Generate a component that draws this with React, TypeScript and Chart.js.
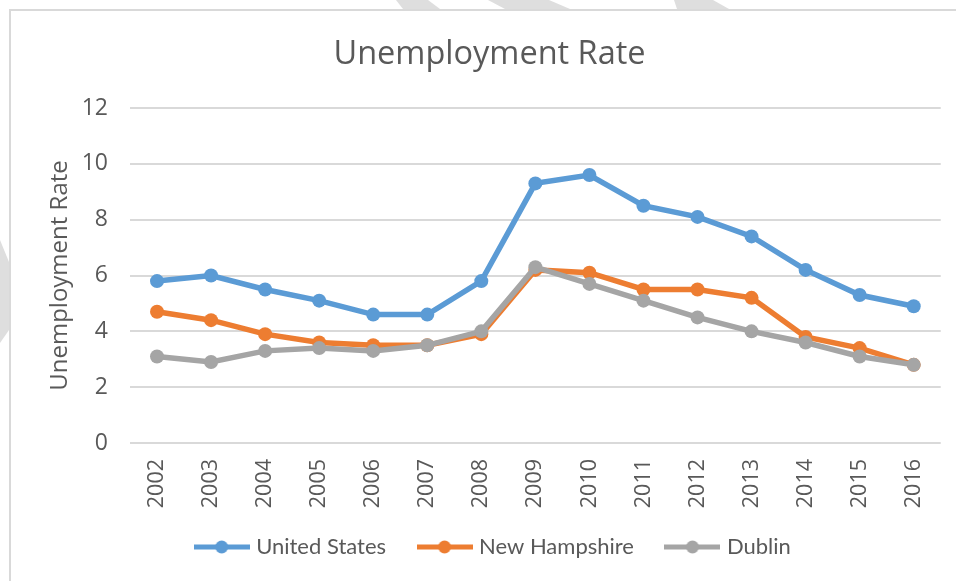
import React, { useEffect, useRef } from "react";
import { Chart, registerables } from "chart.js";

Chart.register(...registerables);

const years = ["2002","2003","2004","2005","2006","2007","2008","2009","2010","2011","2012","2013","2014","2015","2016"];
const unitedStates = [5.8, 6.0, 5.5, 5.1, 4.6, 4.6, 5.8, 9.3, 9.6, 8.5, 8.1, 7.4, 6.2, 5.3, 4.9];
const newHampshire = [4.7, 4.4, 3.9, 3.6, 3.5, 3.5, 3.9, 6.2, 6.1, 5.5, 5.5, 5.2, 3.8, 3.4, 2.8];
const dublin = [3.1, 2.9, 3.3, 3.4, 3.3, 3.5, 4.0, 6.3, 5.7, 5.1, 4.5, 4.0, 3.6, 3.1, 2.8];
const seriesNames = ["United States", "New Hampshire", "Dublin"];
const seriesColors = ["#5B9BD5", "#ED7D31", "#A5A5A5"];
const yTicks = [0, 2, 4, 6, 8, 10, 12];

const TEXT = "#595959";
const GRID = "#d9d9d9";

function legendSymbol(color: string): HTMLCanvasElement {
  const c = document.createElement("canvas");
  c.width = 56;
  c.height = 14;
  const ctx = c.getContext("2d")!;
  ctx.strokeStyle = color;
  ctx.lineWidth = 5;
  ctx.beginPath();
  ctx.moveTo(0, 7);
  ctx.lineTo(56, 7);
  ctx.stroke();
  ctx.fillStyle = color;
  ctx.beginPath();
  ctx.arc(28, 7, 6.5, 0, Math.PI * 2);
  ctx.fill();
  return c;
}

const framePlugin = {
  id: "frame",
  afterLayout(chart: any) {
    const lg = chart.legend;
    if (lg) {
      lg.left += 24;
      lg.right += 24;
    }
    const tt = chart.titleBlock;
    if (tt) {
      tt.left += 19;
      tt.right += 19;
    }
    const xs = chart.scales.x;
    if (xs) xs.bottom = chart.height;
  },
  beforeDraw(chart: any) {
    const ctx = chart.ctx;
    ctx.save();
    ctx.fillStyle = "#ffffff";
    ctx.fillRect(0, 0, chart.width, chart.height);
    ctx.fillStyle = "#dedede";
    const polys = [
      [[396, 0], [428, 0], [440, 9], [403, 9]],
      [[488, 0], [549, 0], [570, 9], [505, 9]],
      [[674, 0], [713, 0], [729, 9], [677, 9]],
      [[0, 240], [9, 262], [9, 330], [0, 343]],
    ];
    for (const p of polys) {
      ctx.beginPath();
      ctx.moveTo(p[0][0], p[0][1]);
      for (let i = 1; i < p.length; i++) ctx.lineTo(p[i][0], p[i][1]);
      ctx.closePath();
      ctx.fill();
    }
    ctx.strokeStyle = GRID;
    ctx.lineWidth = 2;
    ctx.beginPath();
    ctx.moveTo(10, chart.height);
    ctx.lineTo(10, 10);
    ctx.lineTo(chart.width, 10);
    ctx.stroke();
    ctx.restore();
  },
};

export default function App() {
  const ref = useRef<HTMLCanvasElement | null>(null);

  useEffect(() => {
    if (!ref.current) return;
    const data = [unitedStates, newHampshire, dublin];
    const chart = new Chart(ref.current, {
      type: "line",
      data: {
        labels: years,
        datasets: seriesNames.map((name, i) => ({
          label: name,
          data: data[i],
          borderColor: seriesColors[i],
          backgroundColor: seriesColors[i],
          pointBackgroundColor: seriesColors[i],
          pointBorderColor: seriesColors[i],
          borderWidth: 5.5,
          pointRadius: 7,
          pointBorderWidth: 0,
          tension: 0,
          fill: false,
          order: 3 - i,
        })),
      },
      options: {
        responsive: false,
        animation: false,
        layout: { padding: { left: 0, right: 15, top: 0, bottom: 13 } },
        plugins: {
          tooltip: { enabled: false },
          title: {
            display: true,
            text: "Unemployment Rate",
            color: TEXT,
            font: { family: "'Open Sans'", size: 32.5, weight: "normal" },
            padding: { top: 35, bottom: 34 },
          },
          legend: {
            position: "bottom",
            labels: {
              color: TEXT,
              font: { family: "Lato", size: 22 },
              usePointStyle: true,
              pointStyleWidth: 47,
              padding: 35,
              sort: (a: any, b: any) => a.datasetIndex - b.datasetIndex,
              generateLabels: (chart: any) => {
                const items = Chart.defaults.plugins.legend.labels.generateLabels(chart);
                return items.map((it: any) => ({
                  ...it,
                  pointStyle: legendSymbol(seriesColors[it.datasetIndex]),
                }));
              },
            },
          },
        },
        scales: {
          x: {
            offset: true,
            grid: { display: false, drawTicks: false },
            border: { display: false },
            ticks: {
              color: TEXT,
              font: { family: "'Open Sans'", size: 21.5 },
              minRotation: 90,
              maxRotation: 90,
              padding: 16,
              autoSkip: false,
            },
            afterFit: (scale: any) => {
              scale.height = 58;
            },
          },
          y: {
            min: 0,
            max: 12,
            grid: { color: GRID, lineWidth: 2, drawTicks: false },
            border: { display: false },
            afterBuildTicks: (scale: any) => {
              scale.ticks = yTicks.map((v) => ({ value: v }));
            },
            ticks: {
              color: TEXT,
              font: { family: "'Open Sans'", size: 23 },
              padding: 22,
            },
            title: {
              display: true,
              text: "Unemployment Rate",
              color: TEXT,
              font: { family: "'Open Sans'", size: 24 },
              padding: { top: 46, bottom: 0 },
            },
            afterFit: (scale: any) => {
              scale.width = 130;
            },
          },
        },
      },
      plugins: [framePlugin],
    });
    return () => chart.destroy();
  }, []);

  return (
    <div style={{ position: "absolute", left: 0, top: 0, width: 956, height: 581 }}>
      <canvas ref={ref} width={956} height={581} />
    </div>
  );
}
